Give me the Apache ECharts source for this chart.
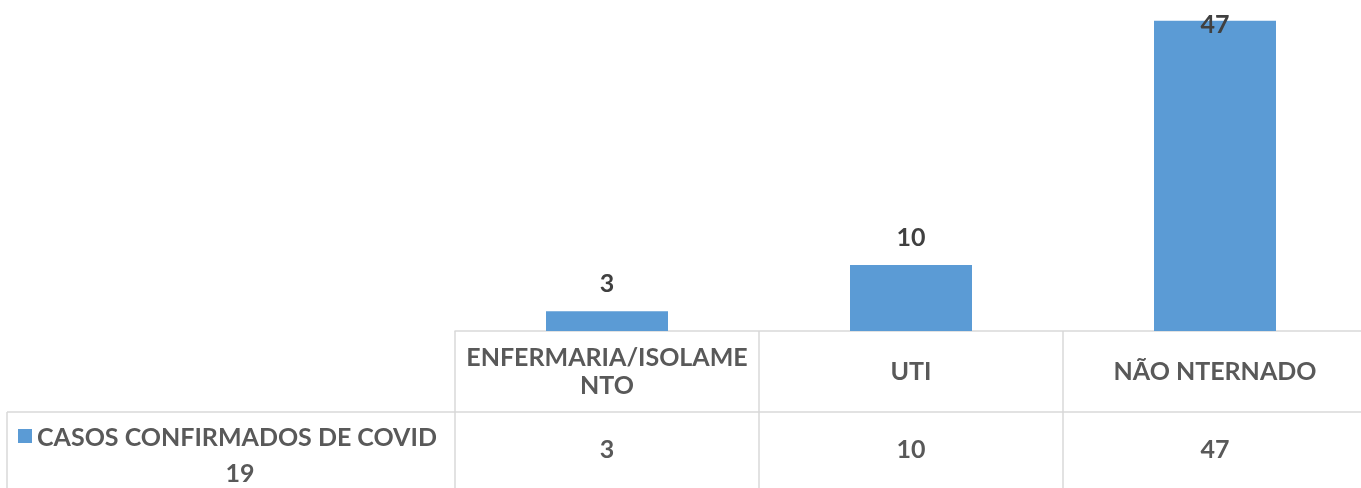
<!DOCTYPE html>
<html><head><meta charset="utf-8">
<script src="https://cdn.jsdelivr.net/npm/echarts@6/dist/echarts.min.js"></script>
<style>html,body{margin:0;padding:0;background:#fff}#c{width:1361px;height:488px}</style>
</head><body><div id="c"></div>
<script>
const categories = ['ENFERMARIA/ISOLAMENTO', 'UTI', 'NÃO NTERNADO'];
const seriesName = 'CASOS CONFIRMADOS DE COVID 19';
const values = [3, 10, 47];
const yMax = 50;

const FONT = 'Lato';
const TXT = '#595959';
const LBL = '#404040';
const LINE = '#d9d9d9';
const BAR = '#5b9bd5';
const FS = 25;
const wrap = s => s.length > 18 ? s.slice(0, 18) + '\n' + s.slice(18) : s;

const chart = echarts.init(document.getElementById('c'));
chart.setOption({
  animation: false,
  grid: { left: 455, width: 912, top: 1, bottom: 157, outerBoundsMode: 'none', containLabel: false },
  xAxis: [
    {
      type: 'category', data: categories, position: 'bottom',
      axisLine: { show: true, lineStyle: { color: LINE, width: 1.5 } },
      axisTick: { show: true, length: 157, alignWithLabel: false, interval: 0, lineStyle: { color: LINE, width: 1.5 } },
      axisLabel: { interval: 0, margin: 41, verticalAlign: 'middle', color: TXT, fontFamily: FONT, fontWeight: 'bold', fontSize: FS, lineHeight: 28, formatter: wrap }
    },
    {
      type: 'category', data: categories, position: 'bottom', offset: 81,
      axisLine: { show: true, lineStyle: { color: LINE, width: 1.5 } },
      axisTick: { show: false },
      axisLabel: { interval: 0, margin: 38, verticalAlign: 'middle', color: TXT, fontFamily: FONT, fontWeight: 'bold', fontSize: FS,
        formatter: (v, i) => String(values[i]) }
    }
  ],
  yAxis: { type: 'value', min: 0, max: yMax, show: false, splitLine: { show: false } },
  series: [{
    type: 'bar', name: seriesName, xAxisIndex: 0, barWidth: 122,
    itemStyle: { color: BAR },
    label: { show: true, position: 'top', distance: 15, color: LBL, fontFamily: FONT, fontWeight: 'bold', fontSize: FS },
    data: values.map(v => v / yMax > 0.9 ? { value: v, label: { position: 'insideTop', distance: 0, offset: [0, -8] } } : v)
  }],
  graphic: [
    { type: 'line', shape: { x1: 7, y1: 412, x2: 455, y2: 412 }, style: { stroke: LINE, lineWidth: 1.5 } },
    { type: 'line', shape: { x1: 7, y1: 412, x2: 7, y2: 488 }, style: { stroke: LINE, lineWidth: 1.5 } },
    { type: 'rect', shape: { x: 18, y: 429, width: 14, height: 14 }, style: { fill: BAR } },
    { type: 'text', x: 240, y: 420, style: { text: seriesName, width: 410, overflow: 'break', align: 'center', verticalAlign: 'top',
        fill: TXT, font: 'bold ' + FS + 'px ' + FONT, lineHeight: 36 } }
  ]
});
</script></body></html>
